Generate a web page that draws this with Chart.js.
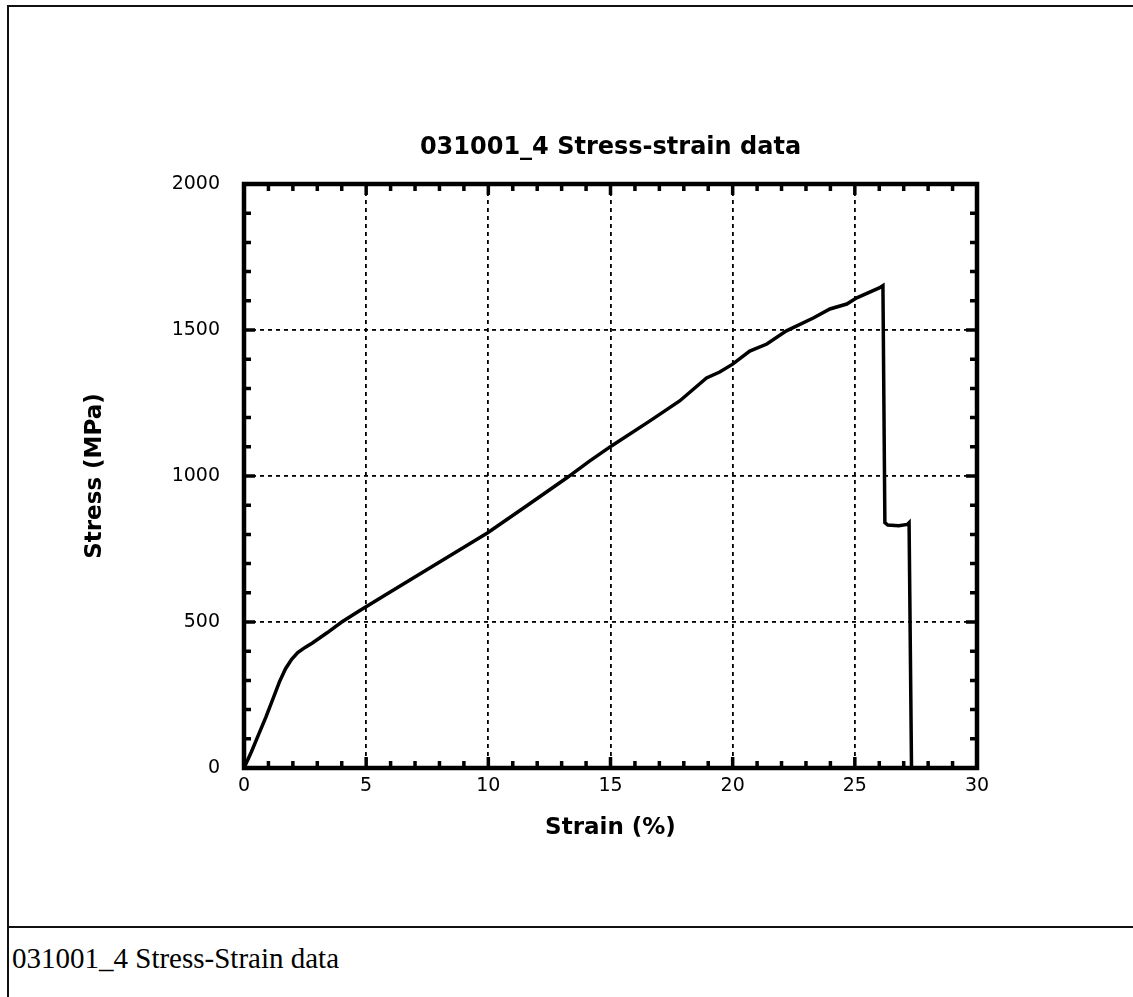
<!DOCTYPE html>
<html>
<head>
<meta charset="utf-8">
<script src="https://cdn.jsdelivr.net/npm/chart.js@4.4.0/dist/chart.umd.min.js"></script>
<style>
  html, body { margin: 0; padding: 0; background: #fff; width: 1133px; height: 997px; overflow: hidden; }
  #wrap { position: absolute; left: 0; top: 0; width: 1133px; height: 927px; }
  .ln { position: absolute; background: #111; }
  #caption { position: absolute; left: 12px; top: 941px; font-family: "Liberation Serif", "Times New Roman", serif; font-size: 29px; line-height: 34px; color: #000; white-space: nowrap; }
</style>
</head>
<body>
<div id="wrap"><canvas id="c" width="1133" height="927"></canvas></div>
<div class="ln" style="left:7px;top:5px;width:2px;height:992px;"></div>
<div class="ln" style="left:7px;top:5px;width:1126px;height:2px;"></div>
<div class="ln" style="left:7px;top:926px;width:1126px;height:2px;"></div>
<div id="caption">031001_4 Stress-Strain data</div>
<script>
// ---- data ----
const chartTitle = "031001_4 Stress-strain data";
const xAxisTitle = "Strain (%)";
const yAxisTitle = "Stress (MPa)";
const strain = [0, 0.3, 0.6, 0.9, 1.2, 1.45, 1.7, 1.95, 2.2, 2.5, 2.8, 3.4, 4.0, 4.71, 6.0, 7.5, 9.0, 9.96, 11.5, 13.2, 14.14, 15.04, 16.6, 17.83, 18.93, 19.47, 20.0, 20.7, 21.4, 22.2, 23.3, 23.98, 24.67, 25.08, 26.0, 26.15, 26.23, 26.35, 26.8, 27.15, 27.22, 27.32];
const stress = [0, 55, 115, 175, 240, 295, 340, 372, 395, 413, 428, 463, 500, 538, 604, 680, 756, 805, 894, 993, 1051, 1103, 1188, 1257, 1336, 1356, 1383, 1428, 1452, 1497, 1541, 1572, 1589, 1610, 1644, 1652, 840, 832, 830, 834, 840, 0];
const xTicks = [0, 5, 10, 15, 20, 25, 30];
const yTicks = [0, 500, 1000, 1500, 2000];

const points = strain.map((s, i) => ({ x: s, y: stress[i] }));

// frame + inward tick marks on all four sides, placed through the scales
const frameTicks = {
  id: 'frameTicks',
  afterDraw(chart) {
    const { ctx, chartArea: a, scales: { x, y } } = chart;
    ctx.save();
    ctx.strokeStyle = '#000';
    ctx.lineCap = 'butt';
    ctx.lineWidth = 3.5;
    for (let v = x.min; v <= x.max + 1e-9; v += 1) {
      const px = x.getPixelForValue(v);
      const len = (Math.abs(v % 5) < 1e-9) ? 11 : 7;
      ctx.beginPath();
      ctx.moveTo(px, a.bottom); ctx.lineTo(px, a.bottom - len);
      ctx.moveTo(px, a.top); ctx.lineTo(px, a.top + len);
      ctx.stroke();
    }
    for (let v = y.min; v <= y.max + 1e-9; v += 100) {
      const py = y.getPixelForValue(v);
      const len = (Math.abs(v % 500) < 1e-9) ? 11 : 7;
      ctx.beginPath();
      ctx.moveTo(a.left, py); ctx.lineTo(a.left + len, py);
      ctx.moveTo(a.right, py); ctx.lineTo(a.right - len, py);
      ctx.stroke();
    }
    ctx.lineWidth = 4.5;
    ctx.strokeRect(a.left, a.top, a.right - a.left, a.bottom - a.top);
    ctx.restore();
  }
};

new Chart(document.getElementById('c'), {
  type: 'scatter',
  data: {
    datasets: [{
      data: points,
      showLine: true,
      borderColor: '#000',
      borderWidth: 3.5,
      pointRadius: 0,
      tension: 0,
      fill: false
    }]
  },
  options: {
    responsive: false,
    animation: false,
    devicePixelRatio: 1,
    layout: { padding: { left: 0, right: 156, top: 0, bottom: 0 } },
    plugins: {
      legend: { display: false },
      tooltip: { enabled: false },
      title: {
        display: true,
        fullSize: false,
        text: chartTitle,
        color: '#000',
        font: { family: 'DejaVu Sans', size: 24, weight: 'bold', lineHeight: 1.2 },
        padding: { top: 133, bottom: 22.2 }
      }
    },
    scales: {
      x: {
        type: 'linear',
        min: 0, max: 30,
        afterFit(s) { s.height = 159; },
        afterBuildTicks(s) { s.ticks = xTicks.map(v => ({ value: v })); },
        ticks: { color: '#000', padding: 7, font: { family: 'DejaVu Sans', size: 19 }, maxRotation: 0, callback: v => String(v) },
        grid: { display: true, color: '#000', lineWidth: 1.8, drawTicks: false },
        border: { display: false, dash: [4, 4] },
        title: { display: true, text: xAxisTitle, color: '#000', font: { family: 'DejaVu Sans', size: 23, weight: 'bold', lineHeight: 1.2 }, padding: { top: 0, bottom: 85 } }
      },
      y: {
        type: 'linear',
        min: 0, max: 2000,
        afterFit(s) { s.width = 244; },
        afterBuildTicks(s) { s.ticks = yTicks.map(v => ({ value: v })); },
        ticks: { color: '#000', padding: 24, font: { family: 'DejaVu Sans', size: 19 }, callback: v => String(v) },
        grid: { display: true, color: '#000', lineWidth: 1.8, drawTicks: false },
        border: { display: false, dash: [4, 4] },
        title: { display: true, text: yAxisTitle, color: '#000', font: { family: 'DejaVu Sans', size: 23, weight: 'bold', lineHeight: 1.2 }, padding: { top: 81, bottom: 0 } }
      }
    }
  },
  plugins: [frameTicks]
});
</script>
</body>
</html>
